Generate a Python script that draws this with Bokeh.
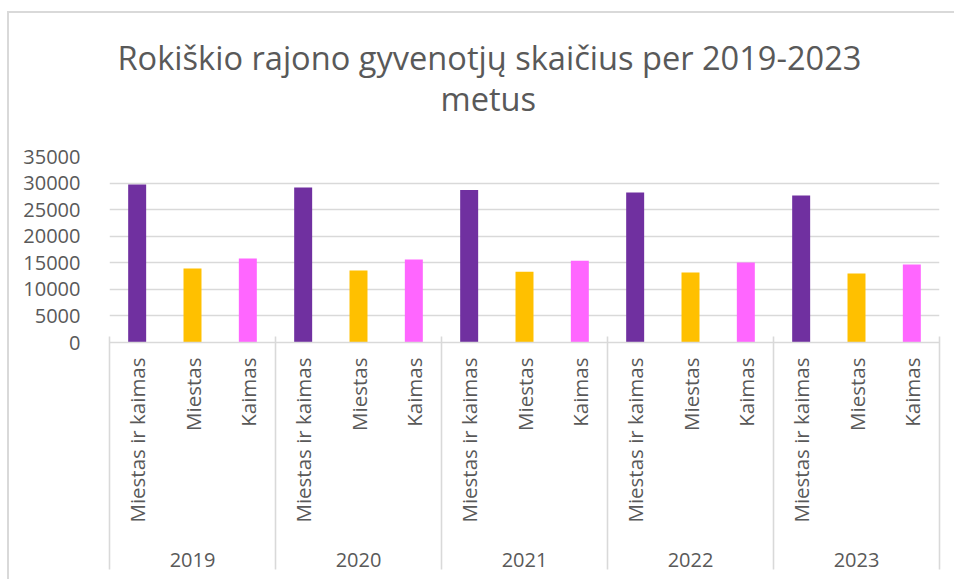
import math
from bokeh.plotting import figure
from bokeh.models import ColumnDataSource, Range1d, FixedTicker, LinearAxis, Title, NumeralTickFormatter
from bokeh.embed import file_html
from bokeh.resources import INLINE

# ---- data ----
years = ["2019", "2020", "2021", "2022", "2023"]
categories = ["Miestas ir kaimas", "Miestas", "Kaimas"]
miestas_ir_kaimas = [29730, 29170, 28700, 28230, 27660]
miestas = [13930, 13550, 13330, 13170, 12980]
kaimas = [15800, 15620, 15370, 15060, 14680]
colors = ["#7030A0", "#FFC000", "#FF66FF"]
y_ticks = [0, 5000, 10000, 15000, 20000, 25000, 30000, 35000]
title_lines = ["Rokiškio rajono gyvenotjų skaičius per 2019-2023", "metus"]

series = [miestas_ir_kaimas, miestas, kaimas]
n_cat = len(categories)
n_total = len(years) * n_cat

xs, tops, cols = [], [], []
for gi, _ in enumerate(years):
    for ci in range(n_cat):
        xs.append(gi * n_cat + ci + 0.5)
        tops.append(series[ci][gi])
        cols.append(colors[ci])
src = ColumnDataSource(dict(x=xs, top=tops, color=cols))

FONT = "Open Sans"
TXT = "#595959"
GRID = "#d9d9d9"

p = figure(width=947, height=568, x_range=Range1d(0, n_total), y_range=Range1d(0, 35000),
           output_backend="svg", toolbar_location=None,
           min_border_left=100, min_border_top=143, min_border_right=17, min_border_bottom=239)
p.styles = {"margin-left": "7px", "margin-top": "11px",
            "border-left": "2px solid #d9d9d9", "border-top": "2px solid #d9d9d9"}
p.outline_line_color = None
p.title.visible = False
p.xgrid.visible = False
p.ygrid.grid_line_color = GRID
p.ygrid.grid_line_width = 1.6

p.vbar(x="x", top="top", width=0.325, bottom=0, color="color", source=src, line_color=None)

# category axis
cat_ticks = [i + 0.5 for i in range(n_total)]
sep_ticks = [float(i * n_cat) for i in range(len(years) + 1)]
xa = p.xaxis[0]
xa.ticker = FixedTicker(ticks=cat_ticks, minor_ticks=[])
xa.major_label_overrides = {t: categories[i % n_cat] for i, t in enumerate(cat_ticks)}
xa.major_label_orientation = math.pi / 2
xa.major_tick_out = 0
xa.major_tick_in = 0
xa.minor_tick_line_color = None
xa.major_tick_line_color = None
xa.axis_line_color = GRID
xa.axis_line_width = 1.6
xa.major_label_standoff = 15
xa.major_label_text_font = FONT
xa.major_label_text_font_size = "20.5px"
xa.major_label_text_color = TXT

# year axis
year_ticks = [gi * n_cat + n_cat / 2 for gi in range(len(years))]
ya2 = LinearAxis(ticker=FixedTicker(ticks=year_ticks, minor_ticks=[]),
                 major_label_overrides={t: years[i] for i, t in enumerate(year_ticks)})
ya2.axis_line_color = None
ya2.major_tick_line_color = None
ya2.minor_tick_line_color = None
ya2.major_tick_out = 0
ya2.minor_tick_out = 0
ya2.major_label_standoff = 27
ya2.major_label_text_font = FONT
ya2.major_label_text_font_size = "20px"
ya2.major_label_text_color = TXT
p.add_layout(ya2, "below")

# separator axis (only long inward minor ticks)
sep = LinearAxis(ticker=FixedTicker(ticks=[], minor_ticks=sep_ticks))
sep.axis_line_color = None
sep.major_tick_line_color = None
sep.major_tick_out = 0
sep.major_tick_in = 0
sep.minor_tick_out = 0
sep.minor_tick_in = 233
sep.minor_tick_line_color = GRID
sep.minor_tick_line_width = 1.6
sep.major_label_standoff = 0
sep.major_label_text_font_size = "0px"
p.add_layout(sep, "below")

# y axis
ya = p.yaxis[0]
ya.ticker = FixedTicker(ticks=y_ticks)
ya.formatter = NumeralTickFormatter(format="0")
ya.axis_line_color = None
ya.major_tick_line_color = None
ya.minor_tick_line_color = None
ya.major_label_standoff = 23
ya.major_label_text_font = FONT
ya.major_label_text_font_size = "20px"
ya.major_label_text_color = TXT

# title (two lines; first added sits nearest the frame), spacer keeps gap to the plot
spacer = Title(text=" ", text_font_size="1px", standoff=39)
t2 = Title(text=title_lines[1], align="left", offset=331, standoff=-12,
           text_font=FONT, text_font_size="32.6px", text_color=TXT, text_font_style="normal")
t1 = Title(text=title_lines[0], align="left", offset=8, standoff=0,
           text_font=FONT, text_font_size="32.6px", text_color=TXT, text_font_style="normal")
p.add_layout(spacer, "above")
p.add_layout(t2, "above")
p.add_layout(t1, "above")

open("out.html", "w").write(file_html(p, INLINE))
